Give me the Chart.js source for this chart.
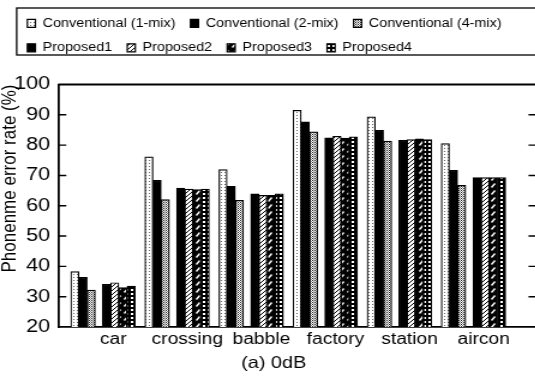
<!DOCTYPE html>
<html><head><meta charset="utf-8">
<script src="https://cdn.jsdelivr.net/npm/chart.js@4/dist/chart.umd.min.js"></script>
<style>
html,body{margin:0;padding:0;background:#fff;overflow:hidden;width:535px;height:391px}
#wrap{position:absolute;left:0;top:0;width:446px;height:391px;transform:scaleX(1.2);transform-origin:0 0}
</style></head><body>
<div id="wrap"><canvas id="c" width="446" height="391"></canvas></div>
<script>
// ---- data ----
const categories = ['car', 'crossing', 'babble', 'factory', 'station', 'aircon'];
const seriesNames = ['Conventional (1-mix)', 'Conventional (2-mix)', 'Conventional (4-mix)',
                     'Proposed1', 'Proposed2', 'Proposed3', 'Proposed4'];
const conv1 = [38.3, 76.1, 71.9, 91.5, 89.3, 80.5];
const conv2 = [36.4, 68.4, 66.4, 87.7, 84.9, 71.7];
const conv4 = [32.2, 62.0, 61.8, 84.4, 81.3, 66.7];
const prop1 = [34.1, 65.8, 63.9, 82.4, 81.6, 69.3];
const prop2 = [34.6, 65.5, 63.4, 82.9, 81.8, 69.3];
const prop3 = [33.0, 65.3, 63.4, 82.3, 82.1, 69.3];
const prop4 = [33.5, 65.5, 63.9, 82.7, 81.8, 69.3];
const yTicks = [20, 30, 40, 50, 60, 70, 80, 90, 100];
const yTitle = 'Phonenme error rate (%)';
const caption = '(a) 0dB';

// ---- styling ----
const FONT = "'Liberation Sans', Arial, Helvetica, sans-serif";
Chart.defaults.font.family = FONT;
Chart.defaults.color = '#000';

const mainCtx = document.getElementById('c').getContext('2d');
function tile(w, h, draw) {
  const c = document.createElement('canvas'); c.width = w; c.height = h;
  const x = c.getContext('2d'); draw(x);
  return mainCtx.createPattern(c, 'repeat');
}
const pDots1 = tile(3, 3, x => { x.fillStyle = '#fff'; x.fillRect(0,0,3,3); x.fillStyle = '#666'; x.fillRect(1,1,1,1); });
const pDots4 = tile(2, 2, x => { x.fillStyle = '#fff'; x.fillRect(0,0,2,2); x.fillStyle = '#222'; x.fillRect(0,0,1,1); x.fillStyle = '#888'; x.fillRect(1,1,1,1); });
const pHatch = tile(4, 4, x => { x.fillStyle = '#fff'; x.fillRect(0,0,4,4); x.strokeStyle = '#000'; x.lineWidth = 1;
  x.beginPath(); x.moveTo(0,4); x.lineTo(4,0); x.moveTo(-1,1); x.lineTo(1,-1); x.moveTo(3,5); x.lineTo(5,3); x.stroke(); });
const pSlash = tile(6, 7, x => { x.fillStyle = '#000'; x.fillRect(0,0,6,7); x.strokeStyle = '#fff'; x.lineWidth = 1.4;
  x.beginPath(); x.moveTo(1.5,5.5); x.lineTo(4.5,1.5); x.stroke(); });
const pGrid = tile(4, 4, x => { x.fillStyle = '#000'; x.fillRect(0,0,4,4); x.fillStyle = '#fff'; x.fillRect(1,1,2,2); });

const seriesValues = [conv1, conv2, conv4, prop1, prop2, prop3, prop4];
const fills = [pDots1, '#000', pDots4, '#000', pHatch, pSlash, pGrid];

const X_MIN = -0.742, X_MAX = 5.695;              // visible category axis range
const CONV_SHIFT = 0.2416, PROP_SHIFT = -0.1862;  // sub-group offsets (category units)

const datasets = seriesNames.map((name, k) => ({
  label: name,
  data: seriesValues[k].map((v, i) => ({ x: i, y: v })),
  backgroundColor: fills[k],
  borderColor: '#000',
  borderWidth: 1.2,
  xAxisID: k < 3 ? 'xc' : 'xp',
  barThickness: 6.83
}));

const catTicks = s => { s.ticks = categories.map((_, i) => ({ value: i })); };

const legendMargin = {
  id: 'legendMargin',
  beforeInit(chart) {
    const fit = chart.legend.fit;
    chart.legend.fit = function () { fit.bind(chart.legend)(); this.height += 20.7; };
  }
};

const axisDecor = {
  id: 'axisDecor',
  afterDraw(chart) {
    const { ctx, chartArea: a, scales: { y } } = chart;
    ctx.save();
    ctx.strokeStyle = '#000';
    ctx.lineWidth = 1.8;
    ctx.beginPath(); ctx.moveTo(a.left, a.top); ctx.lineTo(a.right, a.top); ctx.stroke();
    ctx.lineWidth = 1.4;
    ctx.beginPath();
    y.ticks.forEach(t => {
      if (t.value <= y.min || t.value >= y.max) return;
      const py = y.getPixelForValue(t.value);
      ctx.moveTo(a.left, py); ctx.lineTo(a.left + 6.7, py);
      ctx.moveTo(a.right - 5.6, py); ctx.lineTo(a.right, py);
    });
    ctx.stroke();
    const L = chart.legend;
    ctx.lineWidth = 1.3;
    ctx.strokeRect(L.left + 3.6, L.top + 3.2, L.right - L.left + 10, 47);
    ctx.restore();
  }
};

new Chart(mainCtx, {
  type: 'bar',
  data: { datasets },
  options: {
    responsive: false,
    animation: false,
    devicePixelRatio: 1,
    layout: { padding: { left: 10.3, top: 4.8, right: 0, bottom: 0 } },
    plugins: {
      legend: {
        position: 'top', align: 'start',
        labels: { boxWidth: 6.7, boxHeight: 8, padding: 12.5, font: { size: 12, family: FONT }, color: '#000' }
      },
      title: {
        display: true, position: 'bottom', text: caption,
        font: { size: 16.5, family: FONT, weight: 'normal' }, color: '#000',
        padding: { top: 0.5, bottom: 17.7 }
      },
      tooltip: { enabled: false }
    },
    scales: {
      x: {
        type: 'linear', position: 'bottom', min: X_MIN, max: X_MAX, offset: false,
        afterBuildTicks: catTicks,
        ticks: { callback: v => categories[v] ?? '', font: { size: 16, family: FONT }, color: '#000',
                 padding: 3.4, autoSkip: false, maxRotation: 0 },
        grid: { display: false, drawTicks: false, offset: false },
        border: { display: true, color: '#000', width: 1.8 }
      },
      xc: { type: 'linear', display: false, offset: false, min: X_MIN + CONV_SHIFT, max: X_MAX + CONV_SHIFT, afterBuildTicks: catTicks, grid: { display: false, offset: false } },
      xp: { type: 'linear', display: false, offset: false, min: X_MIN + PROP_SHIFT, max: X_MAX + PROP_SHIFT, afterBuildTicks: catTicks, grid: { display: false, offset: false } },
      y: {
        min: 20, max: 100,
        afterBuildTicks: s => { s.ticks = yTicks.map(v => ({ value: v })); },
        ticks: { font: { size: 18, family: FONT }, color: '#000', padding: 6.7 },
        grid: { display: false, drawTicks: false },
        border: { display: true, color: '#000', width: 1.8 },
        title: { display: true, text: yTitle, align: 'end', color: '#000',
                 font: { size: 17, family: FONT, lineHeight: 1 }, padding: { top: -10, bottom: -12.2 } }
      }
    }
  },
  plugins: [legendMargin, axisDecor]
});
</script>
</body></html>
